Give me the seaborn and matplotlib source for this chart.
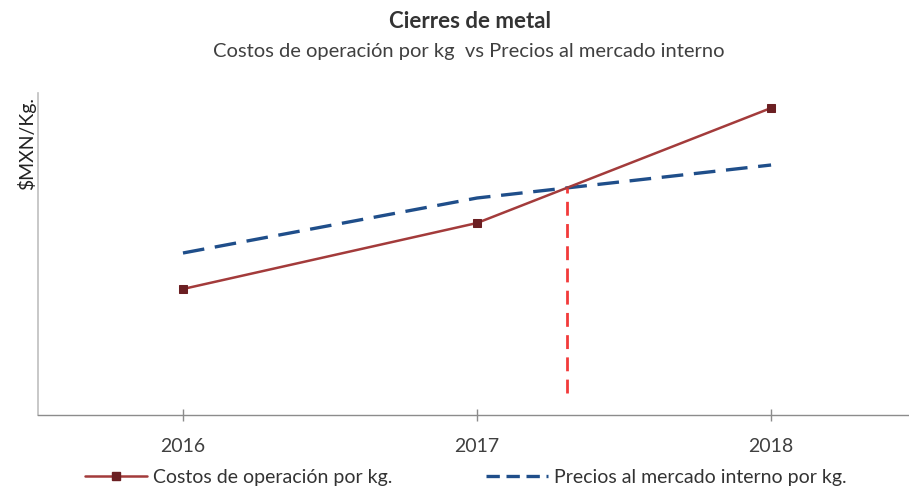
import matplotlib
matplotlib.use("Agg")
import matplotlib.pyplot as plt
from matplotlib.lines import Line2D
import seaborn as sns
import numpy as np
import pandas as pd

years = [2016, 2017, 2018]
costos = [126, 192, 307]      # Costos de operación por kg.
precios = [162, 217, 250]     # Precios al mercado interno por kg.
vline_bottom = 22

title = "Cierres de metal"
subtitle = "Costos de operación por kg  vs Precios al mercado interno"
ylabel = "$MXN/Kg."
label_c = "Costos de operación por kg."
label_p = "Precios al mercado interno por kg."

sns.set_style("white")
plt.rcParams['font.family'] = ['Lato', 'DejaVu Sans']

fig = plt.figure(figsize=(9.09, 4.87), dpi=100)
ax = fig.add_axes([38/909, 1-415/487, 871/909, 322/487])

df = pd.DataFrame({"year": years, "costos": costos, "precios": precios})

red = "#A33B3B"
blue = "#1F4E8A"
sns.lineplot(data=df, x="year", y="precios", ax=ax, color=blue, linewidth=2.4,
             dashes=False)
ax.lines[-1].set_dashes([6.5, 3.2])
sns.lineplot(data=df, x="year", y="costos", ax=ax, color=red, linewidth=1.8,
             marker="s", markersize=6, markerfacecolor="#6B1F22",
             markeredgecolor="#6B1F22")

# intersection between 2017 and 2018 segments
c = np.array(costos, float); p = np.array(precios, float)
d1 = c[1] - p[1]; d2 = c[2] - p[2]
t = d1 / (d1 - d2)
xi = years[1] + t * (years[2] - years[1])
yi = p[1] + t * (p[2] - p[1])
ax.plot([xi, xi], [vline_bottom, yi], color="#F23A3A", linewidth=2.0,
        dashes=[5, 3])

ax.set_xlim(2015.507, 2018.469)
ax.set_ylim(0, 322)
ax.set_xticks(years)
ax.set_xticklabels([str(y) for y in years], fontsize=14, color="#404040")
ax.set_yticks([])
ax.set_xlabel("")
ax.set_ylabel("")
for s in ["top", "right"]:
    ax.spines[s].set_visible(False)
ax.spines["left"].set_color("#BFBFBF")
ax.spines["left"].set_linewidth(1.2)
ax.spines["bottom"].set_color("#8C8C8C")
ax.spines["bottom"].set_linewidth(1.0)
ax.tick_params(axis="x", direction="inout", length=9, width=1, color="#8C8C8C",
               pad=12, bottom=True)

fig.text(470/909, 1-22/487, title, ha="center", va="center", fontsize=16,
         fontweight="bold", color="#333333")
fig.text(469/909, 1-52/487, subtitle, ha="center", va="center", fontsize=14.5,
         color="#404040")
fig.text(27/909, 1-143/487, ylabel, ha="center", va="center", rotation=90,
         fontsize=14, color="#222222")

handles = [
    Line2D([0], [0], color=red, linewidth=1.8, marker="s", markersize=6,
           markerfacecolor="#6B1F22", markeredgecolor="#6B1F22"),
    Line2D([0], [0], color=blue, linewidth=2.4, dashes=[4, 2]),
]
leg = fig.legend(handles, [label_c, label_p], loc="center",
                 bbox_to_anchor=(466/909, 1-477/487), ncol=2, frameon=False,
                 fontsize=14, handlelength=3.2, handletextpad=0.3,
                 columnspacing=4.8, labelcolor="#333333")

fig.savefig("out.png", dpi=100)
